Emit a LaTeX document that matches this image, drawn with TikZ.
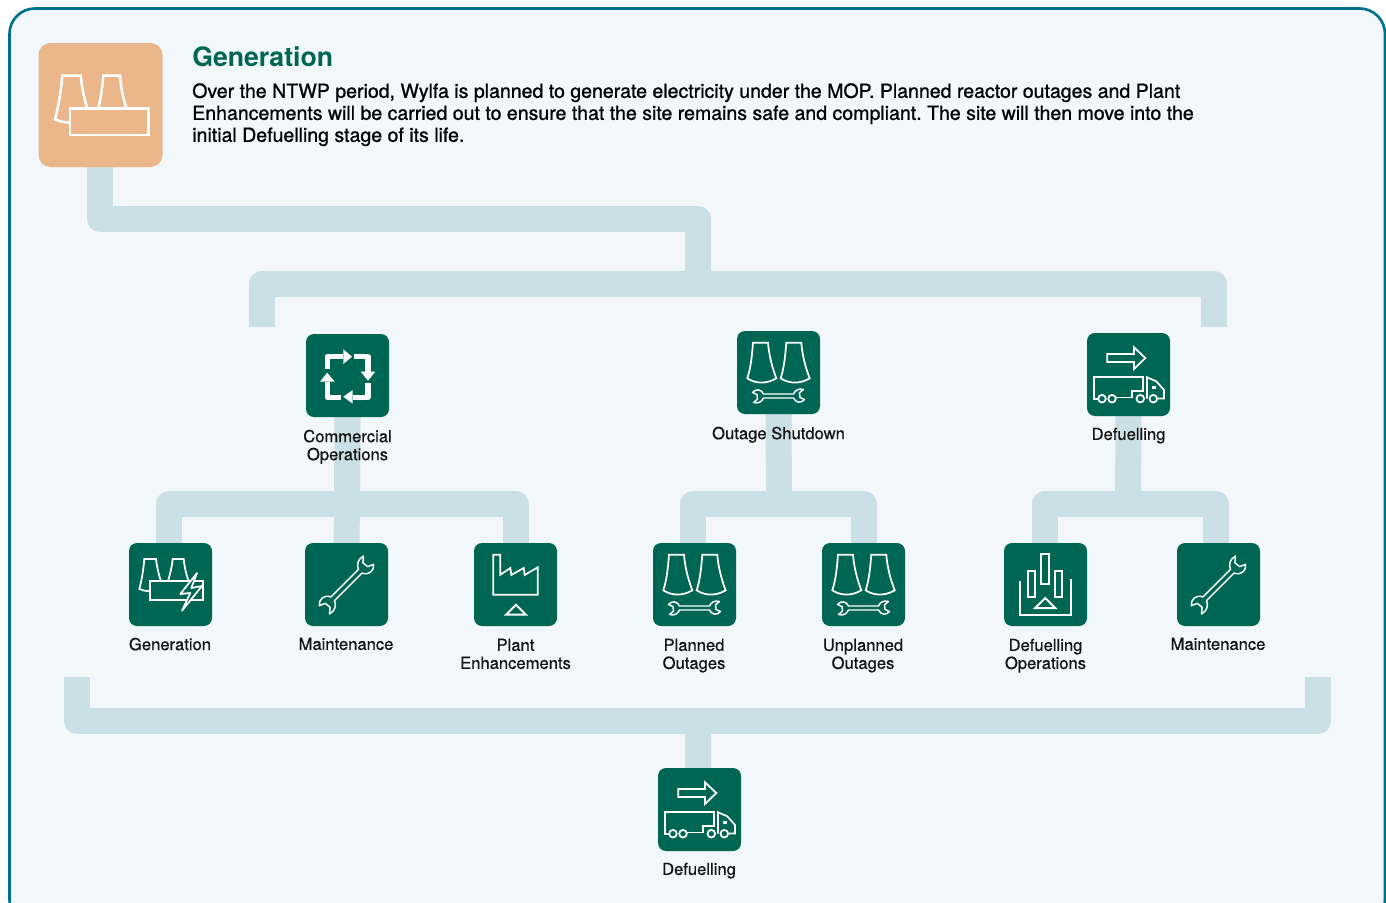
\documentclass[tikz,border=0pt]{standalone}
\usepackage{fontspec}
\setmainfont{TeX Gyre Heros}[FakeBold=0.5]
\newfontfamily\bodyfont{TeX Gyre Heros}[FakeBold=0.9]
\newfontfamily\titlefont{TeX Gyre Heros Bold}
\frenchspacing
\definecolor{panelbg}{HTML}{F1F7FA}
\definecolor{panelline}{HTML}{00708F}
\definecolor{connblue}{HTML}{CBDFE6}
\definecolor{boxgreen}{HTML}{006654}
\definecolor{boxorange}{HTML}{EAB68A}
\pgfdeclarelayer{panelback}
\pgfdeclarelayer{conns}
\pgfsetlayers{panelback,conns,main}
\newcommand{\spanner}[1]{%
  \draw[draw=white,line width=1.1pt,line join=round,scale=#1]
    (-15,-2) -- (15,-2) .. controls (16.5,-5.5) and (20,-8) .. (25,-6.5) -- (21,-3.2)
    -- (21.5,1.5) -- (26,3.5) .. controls (23,7.5) and (17,7) .. (15,2)
    -- (-15,2) .. controls (-16.5,5.5) and (-20,8) .. (-25,6.5) -- (-21,3.2)
    -- (-21.5,-1.5) -- (-26,-3.5) .. controls (-23,-7.5) and (-17,-7) .. (-15,-2) -- cycle;
}
\tikzset{
  x=0.75pt,y=-0.75pt,
  conn/.style={draw=connblue,line width=26*0.75pt,line join=round,line cap=butt},
  iconbox/.style={fill=boxgreen,draw=none,rounded corners=6pt,minimum width=83*0.75pt,minimum height=83*0.75pt,inner sep=0pt,outer sep=0pt},
  glyph/.style={draw=white,line width=1.3pt,line join=miter,fill=none},
  thickarrow/.style={draw=white,line width=4pt,line join=round},
  lab/.style={font=\fontsize{12.45pt}{13.5pt}\selectfont,text=black!92,align=center,anchor=north,inner sep=0pt},
  pics/cooling/.style={code={
    \draw[glyph] (16,11.7) -- (31,11.7) .. controls (32,24) and (35,36) .. (39.3,47.3)
       .. controls (30,53) and (19,53) .. (10.3,47.3) .. controls (14,36) and (15,24) .. cycle;
    \draw[glyph] (49.3,11.7) -- (64.3,11.7) .. controls (65.3,24) and (68.3,36) .. (72.7,47.3)
       .. controls (63.3,53) and (52.3,53) .. (43.7,47.3) .. controls (47.3,36) and (48.3,24) .. cycle;
    \begin{scope}[shift={(41.5,65)}]
      \spanner{1}
    \end{scope}
  }},
  pics/trucky/.style={code={
    \draw[glyph] (20.3,21) -- (47,21) -- (47,14.3) -- (58.3,25) -- (47,36) -- (47,29) -- (20.3,29) -- cycle;
    \draw[glyph] (11,65.7) -- (6.7,65.7) -- (6.7,43.7) -- (56,43.7) -- (56,58.3) -- (45,58.3) -- (45,64.5) -- (29,64.5);
    \draw[glyph] (60,65.5) -- (60,44.3) -- (69.3,48.3) -- (77,57) -- (77,65.5) -- (71,65.5);
    \draw[glyph] (15,65.7) circle[radius=3.8] (25,65.7) circle[radius=3.8] (53.3,65.7) circle[radius=3.8] (66.3,65.7) circle[radius=3.8];
    \fill[white] (65,52.7) rectangle (69.3,56);
  }},
}
\begin{document}
\begin{tikzpicture}
\useasboundingbox (0,0) rectangle (1386,903);
\begin{pgfonlayer}{panelback}
\begin{scope}
\clip (0,0) rectangle (1386,903);
\draw[panelline,fill=panelbg,line width=2pt,rounded corners=19pt] (9.5,8.5) rectangle (1385,925);
\end{scope}
\end{pgfonlayer}

% junction points
\coordinate (busA) at (698,218.7);
\coordinate (hub) at (698,283.7);
\coordinate (feedL) at (262,327);
\coordinate (feedR) at (1214,327);
\coordinate (busC) at (347,504);
\coordinate (busO) at (779,504);
\coordinate (busD) at (1128,504);
\coordinate (mergeL) at (77,677);
\coordinate (mergeR) at (1318,677);
\coordinate (busB) at (698,721);

% nodes
\node[iconbox,fill=boxorange,rounded corners=9pt,minimum width=124*0.75pt,minimum height=124*0.75pt] (top) at (100.5,105) {};
\node[iconbox] (commercial) at (347.5,375.5) {};
\node[iconbox] (outage) at (778.5,372.5) {};
\node[iconbox] (defuel) at (1128.5,374.5) {};
\node[iconbox] (gen) at (170.5,584.5) {};
\node[iconbox] (maintA) at (346.5,584.5) {};
\node[iconbox] (plant) at (515.5,584.5) {};
\node[iconbox] (planned) at (694.5,584.5) {};
\node[iconbox] (unplanned) at (863.5,584.5) {};
\node[iconbox] (defop) at (1045.5,584.5) {};
\node[iconbox] (maintB) at (1218.5,584.5) {};
\node[iconbox] (final) at (699.5,809.5) {};

% connectors
\begin{pgfonlayer}{conns}
\draw[conn] ([xshift=-0.4pt]top.south) |- (busA) -- (hub);
\draw[conn] (feedL) |- (hub) -| (feedR);
\draw[conn] (commercial.south) -- (busC);
\draw[conn] ([xshift=-1pt]gen.north) |- (busC) -| (plant.north);
\draw[conn] (busC) -- (maintA.north);
\draw[conn] (outage.south) -- (busO);
\draw[conn] ([xshift=-1pt]planned.north) |- (busO) -| (unplanned.north);
\draw[conn] (defuel.south) -- (busD);
\draw[conn] ([xshift=-0.5pt]defop.north) |- (busD) -| ([xshift=-2pt]maintB.north);
\draw[conn] (mergeL) |- (busB) -| (mergeR);
\draw[conn] (busB) -- ([xshift=-1pt]final.north);
\end{pgfonlayer}

% orange icon
\begin{scope}[line width=1.9pt]
\draw[white,line join=miter] (70,122.7) .. controls (65,122.5) and (60,121.5) .. (55,119.3) .. controls (59,105) and (61,90) .. (62.3,75.7) -- (80.7,75.7) .. controls (82,88) and (84,98) .. (87.3,108.3);
\draw[white,line join=miter] (98.3,108.3) .. controls (101,97) and (102.5,86) .. (103.3,75.7) -- (120,75.7) .. controls (121,88) and (123,98) .. (126.7,108.3);
\draw[white] (70,108.3) rectangle (148.3,135);
\end{scope}

% commercial icon
\begin{scope}[shift={(306,334)}]
\draw[thickarrow] (21.3,35) -- (21.3,22.7) -- (37.3,22.7);
\fill[white] (37.3,15.3) -- (46,22.7) -- (37.3,30) -- cycle;
\draw[thickarrow] (48,22.7) -- (62,22.7) -- (62,37.7);
\fill[white] (54.7,37.7) -- (69.3,37.7) -- (62,46.7) -- cycle;
\draw[thickarrow] (62,49.3) -- (62,63.3) -- (46.7,63.3);
\fill[white] (46.7,56) -- (46.7,69.7) -- (37.3,62.7) -- cycle;
\draw[thickarrow] (35.3,63.3) -- (21.3,63.3) -- (21.3,47.7);
\fill[white] (14,47.7) -- (28.7,47.7) -- (21.3,38.7) -- cycle;
\end{scope}

\pic at (737,331) {cooling};
\pic at (653,543) {cooling};
\pic at (822,543) {cooling};
\pic at (1087,333) {trucky};
\pic at (658,768) {trucky};

% generation icon
\begin{scope}[shift={(129,543)}]
\draw[glyph] (20.7,48.3) .. controls (17,48) and (13.5,47.5) .. (10.3,46) .. controls (13,36) and (14.5,26) .. (15.3,16) -- (27,16) .. controls (28,24) and (29.5,31) .. (32,38.3);
\draw[glyph] (39,38.3) .. controls (41,31) and (43,24) .. (43.7,16) -- (54.7,16) .. controls (55.5,24) and (57,31) .. (59.7,38.3);
\draw[glyph] (20.7,38.3) rectangle (73.7,56.7);
\draw[glyph,fill=boxgreen,line join=round] (68,30) -- (51.3,51) -- (61.3,50) -- (53,67.7) -- (73,43) -- (62.3,45) -- cycle;
\end{scope}

% maintenance icons
\begin{scope}[shift={(346.5,585)},rotate=45]
\spanner{1.3}
\end{scope}
\begin{scope}[shift={(1218.5,585)},rotate=45]
\spanner{1.3}
\end{scope}

% plant icon
\begin{scope}[shift={(474,543)}]
\draw[glyph] (19.3,11.7) -- (26.3,11.7) -- (26.3,31.7) -- (36.3,25) -- (37.3,32) -- (49.7,25) -- (50.7,32) -- (63.7,24.3) -- (63.7,51.7) -- (19.3,51.7) -- cycle;
\draw[glyph,line width=1.5pt] (32,71.7) -- (42,61.7) -- (52,71.7) -- cycle;
\end{scope}

% defuelling operations icon
\begin{scope}[shift={(1004,543)}]
\draw[glyph] (24,28.3) rectangle (30.7,54);
\draw[glyph] (37.3,10.7) rectangle (45,40.7);
\draw[glyph] (51.3,28.3) rectangle (58.3,54);
\draw[glyph] (15.7,38.3) -- (15.7,72.3) -- (66.7,72.3) -- (66.7,35.7);
\draw[glyph,line width=1.5pt] (31.3,65) -- (41.3,55) -- (51.3,65) -- cycle;
\end{scope}

% labels
\node[lab] (tCommercial) at (347.5,429.5) {Commercial\\Operations};
\node[lab] (tOutage) at (778.5,426.5) {Outage Shutdown};
\node[lab] (tDefuel) at (1128.5,427.5) {Defuelling};
\node[lab] (tGen) at (170,637.5) {Generation};
\node[lab] (tMaintA) at (346,637.5) {Maintenance};
\node[lab] (tPlant) at (515.5,638.5) {Plant\\Enhancements};
\node[lab] (tPlanned) at (694,638.5) {Planned\\Outages};
\node[lab] (tUnplanned) at (863,638.5) {Unplanned\\Outages};
\node[lab] (tDefop) at (1045.5,638.5) {Defuelling\\Operations};
\node[lab] (tMaintB) at (1218,637.5) {Maintenance};
\node[lab] (tFinal) at (699,862.5) {Defuelling};

% heading
\node[anchor=base west,inner sep=0pt,text=boxgreen,font=\titlefont\fontsize{20pt}{24pt}\selectfont] (title) at (192,66.3) {Generation};
\node[anchor=north west,inner sep=0pt,align=left,text=black,font=\bodyfont\fontsize{14.65pt}{16.5pt}\selectfont] (body) at (192,83) {Over the NTWP period, Wylfa is planned to generate electricity under the MOP. Planned reactor outages and Plant\\Enhancements will be carried out to ensure that the site remains safe and compliant. The site will then move into the\\initial Defuelling stage of its life.};
\end{tikzpicture}
\end{document}
